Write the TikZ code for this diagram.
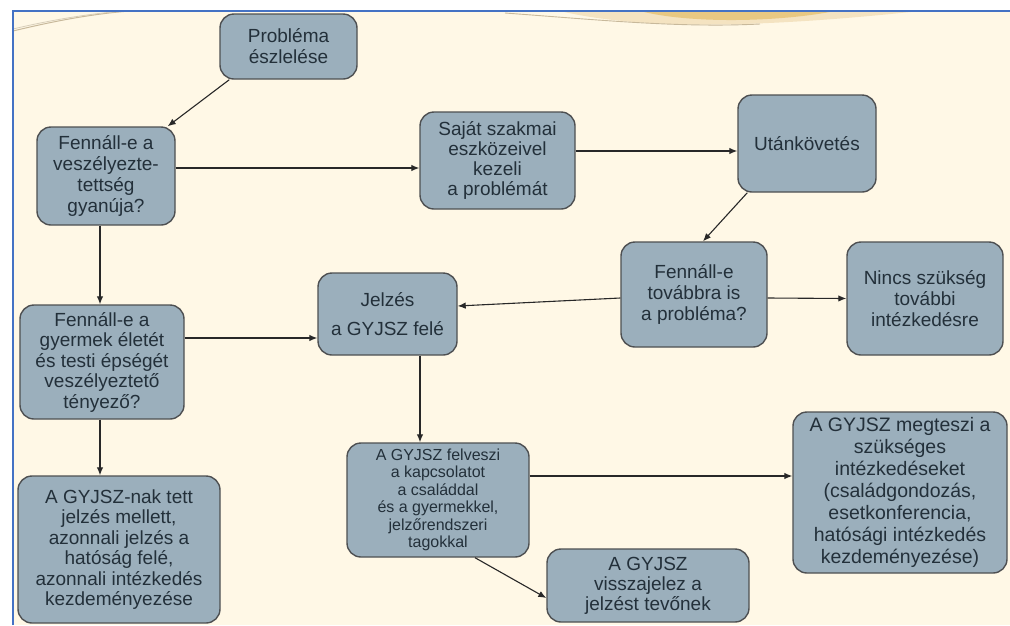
\documentclass[tikz,border=0pt]{standalone}
\usepackage{fontspec}
\setmainfont{Liberation Sans}
\usetikzlibrary{arrows.meta,calc}
\definecolor{bg}{RGB}{255,248,230}
\definecolor{boxfill}{RGB}{155,175,188}
\definecolor{boxline}{RGB}{78,80,82}
\definecolor{txt}{RGB}{35,48,58}
\definecolor{frameblue}{RGB}{68,114,196}
\definecolor{arrowc}{RGB}{40,40,40}
\definecolor{swoosh}{RGB}{200,185,155}
\definecolor{gold}{RGB}{232,200,130}
\begin{document}
\begin{tikzpicture}[x=1pt,y=-1pt,
  box/.style={draw=boxline, line width=1.4pt, fill=boxfill, rounded corners=14pt,
    align=center, text=txt, inner sep=0pt, font=\fontsize{19}{21}\selectfont},
  arr/.style={draw=arrowc, line width=1.1pt, -{Latex[length=8pt,width=6.5pt]}}]
\useasboundingbox (0,0) rectangle (1010,625);
\fill[white] (0,0) rectangle (1010,625);
\fill[bg] (12,10) rectangle (1010,625);
% decorative swooshes
\draw[swoosh, line width=1pt] (13,31) .. controls (50,22) and (90,14) .. (130,11);
\draw[swoosh!70, line width=0.8pt] (13,29) .. controls (55,19) and (95,13) .. (125,11);
\fill[gold!50] (560,11) .. controls (640,30) and (760,28) .. (920,11) -- cycle;
\fill[gold] (640,11) .. controls (690,24) and (780,22) .. (835,11) -- cycle;
\draw[swoosh, line width=0.9pt] (505,13) .. controls (600,20) and (680,28) .. (760,24);
\draw[frameblue, line width=2pt] (12.5,625) -- (12.5,10.5) -- (1010,10.5);

% nodes
\node[box, minimum width=137pt, minimum height=65pt] (prob) at (288.5,46.5) {Probléma\\észlelése};
\node[box, minimum width=138pt, minimum height=98pt] (vesz) at (106,176) {Fennáll-e a\\veszélyezte-\\tettség\\gyanúja?};
\node[box, minimum width=155pt, minimum height=97pt, font=\fontsize{19}{20}\selectfont] (sajat) at (497.5,160.5) {Saját szakmai\\eszközeivel\\kezeli\\a problémát};
\node[box, minimum width=138pt, minimum height=97pt] (utan) at (807,143.5) {Utánkövetés};
\node[box, minimum width=146pt, minimum height=105pt] (tovabb) at (694,294.5) {Fennáll-e\\továbbra is\\a probléma?};
\node[box, minimum width=156pt, minimum height=113pt] (nincs) at (925,298.5) {Nincs szükség\\további\\intézkedésre};
\node[box, minimum width=139pt, minimum height=82pt] (jelzes) at (387.5,314) {Jelzés\\[8pt]a GYJSZ felé};
\node[box, minimum width=164pt, minimum height=114pt, font=\fontsize{19}{20.5}\selectfont] (gyermek) at (102,362) {Fennáll-e a\\gyermek életét\\és testi épségét\\veszélyeztető\\tényező?};
\node[box, minimum width=202pt, minimum height=147pt, font=\fontsize{19}{20.5}\selectfont] (azonnali) at (119,549.5) {A GYJSZ-nak tett\\jelzés mellett,\\azonnali jelzés a\\hatóság felé,\\azonnali intézkedés\\kezdeményezése};
\node[box, minimum width=182pt, minimum height=114pt, font=\fontsize{16}{17.5}\selectfont] (felveszi) at (438,500) {A GYJSZ felveszi\\a kapcsolatot\\a családdal\\és a gyermekkel,\\jelzőrendszeri\\tagokkal};
\node[box, minimum width=202pt, minimum height=73pt, font=\fontsize{19}{20}\selectfont] (vissza) at (648,585.5) {A GYJSZ\\visszajelez a\\jelzést tevőnek};
\node[box, minimum width=214pt, minimum height=161pt, font=\fontsize{19.5}{22}\selectfont] (megteszi) at (900,492.5) {A GYJSZ megteszi a\\szükséges\\intézkedéseket\\(családgondozás,\\esetkonferencia,\\hatósági intézkedés\\kezdeményezése)};

% connectors
\draw[arr] ([xshift=10pt]prob.south west) -- ([xshift=-8pt]vesz.north east);
\draw[arr] ([yshift=8pt]vesz.east) -- ([yshift=-7.5pt]sajat.west);
\draw[arr] ([yshift=9.5pt]sajat.east) -- ([yshift=-7.5pt]utan.west);
\draw[arr] ([xshift=10pt]utan.south west) -- ([xshift=9pt]tovabb.north);
\draw[arr] ([yshift=-3.5pt]tovabb.east) -- (nincs.west);
\draw[arr] ([yshift=-3.5pt]tovabb.west) -- ([yshift=8pt]jelzes.east);
\draw[arr] ([xshift=-6pt]vesz.south) -- ([xshift=-2pt]gyermek.north);
\draw[arr] ([yshift=24pt]gyermek.east) -- ([yshift=-24pt]jelzes.west);
\draw[arr] ([xshift=-2pt]gyermek.south) -- ([xshift=-19pt]azonnali.north);
\draw[arr] ([xshift=32.5pt]jelzes.south) -- ([xshift=-18pt]felveszi.north);
\draw[arr] ([xshift=37pt]felveszi.south) -- ([yshift=-12.5pt]vissza.west);
\draw[arr] ([yshift=24pt]felveszi.east) -- ([yshift=16.5pt]megteszi.west);
\end{tikzpicture}
\end{document}
